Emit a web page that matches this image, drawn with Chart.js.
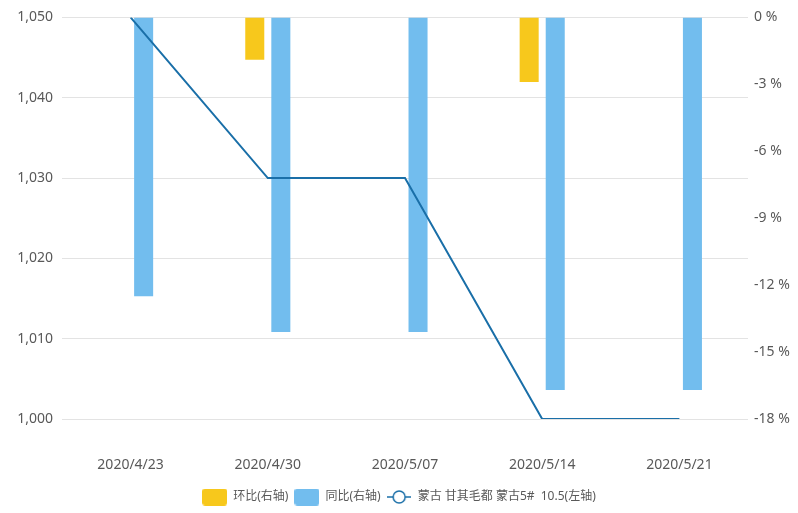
<!DOCTYPE html>
<html>
<head>
<meta charset="utf-8">
<script src="https://cdn.jsdelivr.net/npm/chart.js@4.4.1/dist/chart.umd.min.js"></script>
<style>
html,body{margin:0;padding:0;background:#fff;}
#wrap{width:798px;height:513px;position:relative;}
</style>
</head>
<body>
<div id="wrap"><canvas id="c"></canvas></div>
<script>
const categories = ['2020/4/23', '2020/4/30', '2020/5/07', '2020/5/14', '2020/5/21'];
const momValues = [0, -1.9, 0, -2.9, 0];          // 环比(右轴), %
const yoyValues = [-12.5, -14.1, -14.1, -16.7, -16.7]; // 同比(右轴), %
const priceValues = [1050, 1030, 1030, 1000, 1000];  // 蒙古 甘其毛都 蒙古5# 10.5(左轴)
const leftTicks = [1000, 1010, 1020, 1030, 1040, 1050];
const rightTicks = [-18, -15, -12, -9, -6, -3, 0];
const seriesNames = ['环比(右轴)', '同比(右轴)', '蒙古 甘其毛都 蒙古5#  10.5(左轴)'];

const YELLOW = '#F7C81C';
const BLUE = '#72BDEE';
const LINE = '#1A6FA8';
const TXT = '#595959';
const FONT = "'Noto Sans', 'Noto Sans CJK SC', sans-serif";

function boxImg(color) {
  const c = document.createElement('canvas');
  c.width = 25; c.height = 17;
  const g = c.getContext('2d');
  g.fillStyle = color;
  g.beginPath();
  g.roundRect(0, 0, 25, 17, 3);
  g.fill();
  return c;
}
function lineImg(color) {
  const c = document.createElement('canvas');
  c.width = 24; c.height = 16;
  const g = c.getContext('2d');
  g.strokeStyle = color; g.lineWidth = 1.5;
  g.beginPath(); g.moveTo(0, 8); g.lineTo(24, 8); g.stroke();
  g.fillStyle = '#fff';
  g.beginPath(); g.arc(12, 8, 6, 0, Math.PI * 2); g.fill(); g.stroke();
  return c;
}
const legendImgs = [boxImg(YELLOW), boxImg(BLUE), lineImg(LINE)];

new Chart(document.getElementById('c'), {
  data: {
    labels: categories,
    datasets: [
      { type: 'bar', label: seriesNames[0], data: momValues, backgroundColor: YELLOW, yAxisID: 'yR', order: 1,
        categoryPercentage: 0.38, barPercentage: 0.73 },
      { type: 'bar', label: seriesNames[1], data: yoyValues, backgroundColor: BLUE, yAxisID: 'yR', order: 1,
        categoryPercentage: 0.38, barPercentage: 0.73 },
      { type: 'line', label: seriesNames[2], data: priceValues, borderColor: LINE, borderWidth: 2,
        pointRadius: 0, tension: 0, yAxisID: 'yL', order: 0, fill: false }
    ]
  },
  options: {
    responsive: true,
    maintainAspectRatio: false,
    animation: false,
    layout: { padding: { top: 16, left: 0, right: 0, bottom: 0 } },
    plugins: {
      tooltip: { enabled: false },
      legend: {
        position: 'bottom',
        labels: {
          usePointStyle: true,
          pointStyleWidth: 25,
          boxHeight: 17,
          padding: 6,
          color: TXT,
          font: { family: FONT, size: 12 },
          generateLabels: (chart) => chart.data.datasets.map((d, i) => ({
            text: d.label, pointStyle: legendImgs[i], datasetIndex: i,
            fillStyle: 'transparent', strokeStyle: 'transparent', lineWidth: 0, fontColor: TXT
          }))
        }
      }
    },
    scales: {
      x: {
        offset: true,
        grid: { display: false, drawTicks: false },
        border: { display: false },
        ticks: { color: TXT, font: { family: FONT, size: 14 }, padding: 38, maxRotation: 0 },
        afterFit: (s) => { s.height = 66; }
      },
      yL: {
        position: 'left',
        min: 1000, max: 1050,
        afterBuildTicks: (s) => { s.ticks = leftTicks.map(v => ({ value: v })); },
        grid: { color: '#E3E3E3', drawTicks: false, lineWidth: 1 },
        border: { display: false },
        ticks: { color: TXT, font: { family: FONT, size: 14 }, padding: 9,
          callback: (v) => Number(v).toLocaleString('en-US') },
        afterFit: (s) => { s.width = 62; }
      },
      yR: {
        position: 'right',
        min: -18, max: 0,
        afterBuildTicks: (s) => { s.ticks = rightTicks.map(v => ({ value: v })); },
        grid: { display: false, drawTicks: false },
        border: { display: false },
        ticks: { color: TXT, font: { family: FONT, size: 14 }, padding: 6,
          callback: (v) => v + ' %' },
        afterFit: (s) => { s.width = 50; }
      }
    }
  }
});
</script>
</body>
</html>
